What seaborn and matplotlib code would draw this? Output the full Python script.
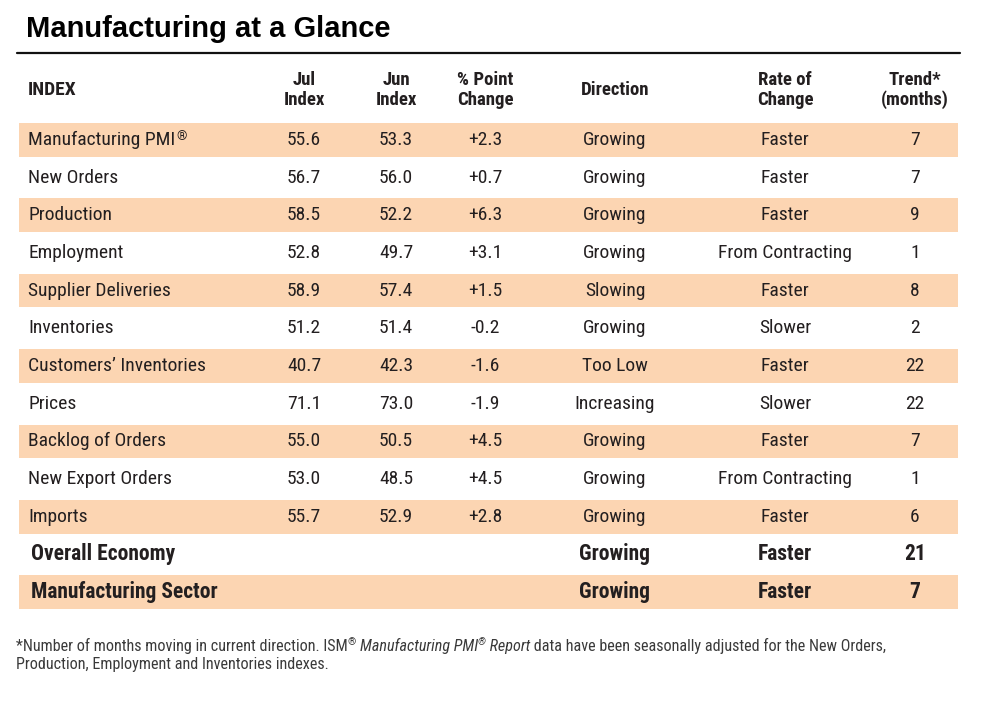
import matplotlib
matplotlib.use("Agg")
import matplotlib.pyplot as plt
from matplotlib import font_manager
from matplotlib.lines import Line2D
import matplotlib.transforms as mtransforms
import numpy as np
import pandas as pd
import seaborn as sns

# ---------------- data ----------------
indexes = ["Manufacturing PMI", "New Orders", "Production", "Employment",
           "Supplier Deliveries", "Inventories", "Customers\u2019 Inventories",
           "Prices", "Backlog of Orders", "New Export Orders", "Imports",
           "Overall Economy", "Manufacturing Sector"]
jul_index = ["55.6", "56.7", "58.5", "52.8", "58.9", "51.2", "40.7", "71.1",
             "55.0", "53.0", "55.7", "", ""]
jun_index = ["53.3", "56.0", "52.2", "49.7", "57.4", "51.4", "42.3", "73.0",
             "50.5", "48.5", "52.9", "", ""]
pt_change = ["+2.3", "+0.7", "+6.3", "+3.1", "+1.5", "-0.2", "-1.6", "-1.9",
             "+4.5", "+4.5", "+2.8", "", ""]
direction = ["Growing", "Growing", "Growing", "Growing", "Slowing", "Growing",
             "Too Low", "Increasing", "Growing", "Growing", "Growing",
             "Growing", "Growing"]
rate_of_change = ["Faster", "Faster", "Faster", "From Contracting", "Faster",
                  "Slower", "Faster", "Slower", "Faster", "From Contracting",
                  "Faster", "Faster", "Faster"]
trend_months = ["7", "7", "9", "1", "8", "2", "22", "22", "7", "1", "6", "21", "7"]
bold_rows = [False] * 11 + [True, True]
headers = ["INDEX", "Jul\nIndex", "Jun\nIndex", "% Point\nChange", "Direction",
           "Rate of\nChange", "Trend*\n(months)"]
title = "Manufacturing at a Glance"

# ---------------- fonts ----------------
avail = {f.name for f in font_manager.fontManager.ttflist}
narrow = [f for f in ["Liberation Sans Narrow", "Roboto Condensed", "Liberation Sans", "DejaVu Sans"] if f in avail]
wide = [f for f in ["Liberation Sans", "DejaVu Sans"] if f in avail]

sns.set_theme(style="white")
plt.rcParams["font.family"] = narrow

W, H = 1000, 704
fig = plt.figure(figsize=(10, 7.04), dpi=100)
fig.patch.set_facecolor("white")

def fx(px):
    return px / W

def fy(py):
    return 1 - py / H

band_left, band_right = 17, 960
band_top, band_bottom = 121, 611
ax = fig.add_axes([fx(band_left), fy(band_bottom), fx(band_right - band_left),
                   (band_bottom - band_top) / H])

n = len(indexes)
shade = pd.DataFrame({"band": [1 if i % 2 == 0 else 0 for i in range(n)]},
                     index=indexes)
peach = "#FCD5B2"
sns.heatmap(shade, ax=ax, cmap=matplotlib.colors.ListedColormap(["white", peach]),
            vmin=0, vmax=1, cbar=False, linewidths=1.5, linecolor="white",
            xticklabels=False, yticklabels=False)
ax.set_xlabel("")
ax.set_ylabel("")
for s in ax.spines.values():
    s.set_visible(False)

trans = mtransforms.blended_transform_factory(ax.transAxes, ax.transData)

def axx(px):
    return (px - band_left) / (band_right - band_left)

col_x = [28, 304, 396, 485, 615, 785, 915]
txt_color = "#231F20"

fig.canvas.draw()
renderer = fig.canvas.get_renderer()

columns = [jul_index, jun_index, pt_change, direction, rate_of_change, trend_months]
for i in range(n):
    y = i + 0.5
    bold = bold_rows[i]
    weight = "bold" if bold else "normal"
    fs = 15.5 if bold else 14
    lx = 31 if bold else 28
    t = ax.text(axx(lx), y, indexes[i], transform=trans, ha="left", va="center",
                fontsize=fs, fontweight=weight, color=txt_color)
    if i == 0:
        bb = t.get_window_extent(renderer=renderer)
        fig.text((bb.x1 + 1) / W, (bb.y1 + 1) / H, "\u00ae", fontsize=9.5,
                 color=txt_color, ha="left", va="top")
    for c, vals in enumerate(columns):
        ax.text(axx(col_x[c + 1]), y, vals[i], transform=trans, ha="center",
                va="center", fontsize=fs, fontweight=weight, color=txt_color)

# headers
hy = fy(90)
fig.text(fx(28), hy, headers[0], ha="left", va="center", fontsize=14,
         fontweight="bold", color=txt_color)
for c in range(1, len(headers)):
    fig.text(fx(col_x[c]), hy, headers[c], ha="center", va="center", fontsize=13.5,
             fontweight="bold", color=txt_color, linespacing=1.1)

# title and rule
fig.text(fx(26), fy(29), title, ha="left", va="center", fontsize=21,
         fontweight="bold", color="black", family=wide)
fig.add_artist(Line2D([fx(17), fx(960)], [fy(53), fy(53)], color="#111111",
                      linewidth=1.6, transform=fig.transFigure))

# footnote with italic part and superscript marks
foot_fs = 11.6
foot_col = "#3a3a3a"
parts = [("*Number of months moving in current direction. ISM", "normal", False),
         ("\u00ae", "normal", True),
         (" ", "normal", False),
         ("Manufacturing PMI", "italic", False),
         ("\u00ae", "italic", True),
         (" Report", "italic", False),
         (" data have been seasonally adjusted for the New Orders,", "normal", False)]
x0 = fx(16)
y1 = fy(646)
for txt, style, sup in parts:
    if sup:
        t = fig.text(x0, y1 + 4 / H, txt, ha="left", va="center", fontsize=7.5,
                     style=style, color=foot_col)
    else:
        t = fig.text(x0, y1, txt, ha="left", va="center", fontsize=foot_fs,
                     style=style, color=foot_col)
    bb = t.get_window_extent(renderer=renderer)
    x0 = bb.x1 / W
fig.text(fx(16), fy(665), "Production, Employment and Inventories indexes.",
         ha="left", va="center", fontsize=foot_fs, color=foot_col)

fig.savefig("out.png", dpi=100, facecolor="white")
